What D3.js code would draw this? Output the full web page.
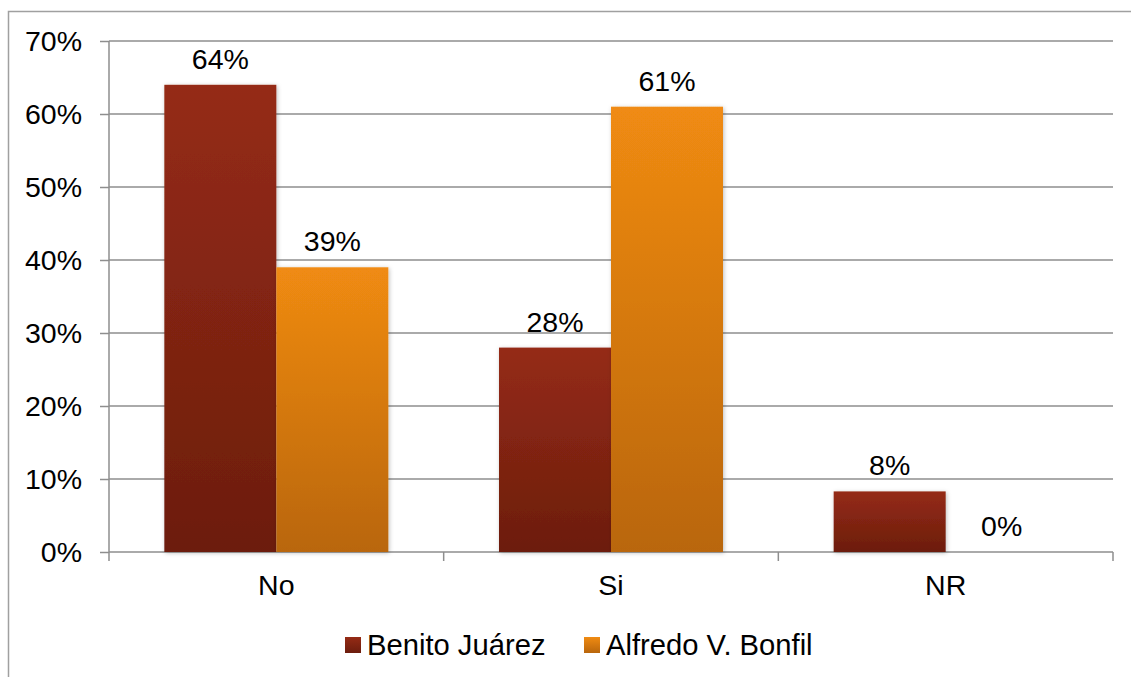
<!DOCTYPE html>
<html>
<head>
<meta charset="utf-8">
<script src="https://cdn.jsdelivr.net/npm/d3@7"></script>
<style>
  html, body { margin: 0; padding: 0; background: #fff; }
  svg { display: block; font-family: "Liberation Sans", Arial, sans-serif; }
</style>
</head>
<body>
<svg id="chart" width="1131" height="677"></svg>
<script>
const categories = ["No", "Si", "NR"];
const seriesNames = ["Benito Juárez", "Alfredo V. Bonfil"];
const benitoJuarez = [64, 28, 8.3];
const alfredoBonfil = [39, 61, 0];
const yTicks = [0, 10, 20, 30, 40, 50, 60, 70];

const values = [benitoJuarez, alfredoBonfil];
const svg = d3.select("#chart");
const W = 1131, H = 677;
const m = { left: 109, right: 1113, top: 41, bottom: 552 };
const FS = 28.5;
const LFS = 29.2;

const defs = svg.append("defs");
const grads = [["#952b15", "#6c1d0e"], ["#f08b12", "#b9660c"]];
grads.forEach((g, i) => {
  const lg = defs.append("linearGradient").attr("id", "g" + i)
    .attr("x1", 0).attr("y1", 0).attr("x2", 0).attr("y2", 1);
  lg.append("stop").attr("offset", "0%").attr("stop-color", g[0]);
  lg.append("stop").attr("offset", "100%").attr("stop-color", g[1]);
});
const f = defs.append("filter").attr("id", "sh").attr("x", "-10%").attr("y", "-10%").attr("width", "130%").attr("height", "130%");
f.append("feDropShadow").attr("dx", 1).attr("dy", 1).attr("stdDeviation", 2).attr("flood-color", "#000").attr("flood-opacity", 0.25);

// outer border
svg.append("rect").attr("x", 8.5).attr("y", 11.5).attr("width", W + 10).attr("height", H + 10)
  .attr("fill", "none").attr("stroke", "#a0a0a0").attr("stroke-width", 1.5);

const x0 = d3.scaleBand().domain(categories).range([m.left, m.right]);
const y = d3.scaleLinear().domain([0, 70]).range([m.bottom, m.top]);

// gridlines
svg.append("g").selectAll("line").data(yTicks.filter(t => t > 0)).join("line")
  .attr("x1", m.left).attr("x2", m.right)
  .attr("y1", d => y(d)).attr("y2", d => y(d))
  .attr("stroke", "#8e8e8e").attr("stroke-width", 1.5);

// y axis
const yAxis = d3.axisLeft(y).tickValues(yTicks).tickFormat(d => d + "%").tickSize(9).tickPadding(18);
const gy = svg.append("g").attr("transform", `translate(${m.left},0)`).call(yAxis);
gy.select(".domain").attr("stroke", "#8e8e8e").attr("stroke-width", 1.5).attr("d", `M0,${m.top}V${m.bottom}`);
gy.selectAll(".tick line").attr("stroke", "#8e8e8e").attr("stroke-width", 1.5);
gy.selectAll("text").attr("font-size", FS).attr("fill", "#000").attr("font-family", "Liberation Sans, Arial, sans-serif");

// x axis
const xAxis = d3.axisBottom(x0).tickSize(0).tickPadding(23);
const gx = svg.append("g").attr("transform", `translate(0,${m.bottom})`).call(xAxis);
gx.select(".domain").remove();
gx.append("line").attr("x1", m.left).attr("x2", m.right).attr("stroke", "#8e8e8e").attr("stroke-width", 1.5);
const bounds = [m.left, ...categories.map(c => x0(c) + x0.bandwidth())];
gx.selectAll(".bt").data(bounds).join("line").attr("class", "bt")
  .attr("x1", d => d).attr("x2", d => d).attr("y1", 0).attr("y2", 9)
  .attr("stroke", "#8e8e8e").attr("stroke-width", 1.5);
gx.selectAll("text").attr("font-size", FS).attr("fill", "#000").attr("font-family", "Liberation Sans, Arial, sans-serif");

// bars
const bw = 112;
values.forEach((vals, si) => {
  const g = svg.append("g");
  g.selectAll("rect").data(vals).join("rect")
    .attr("x", (d, i) => x0(categories[i]) + x0.bandwidth() / 2 + (si - 1) * bw)
    .attr("y", d => y(d))
    .attr("width", bw)
    .attr("height", d => y(0) - y(d))
    .attr("fill", `url(#g${si})`)
    .attr("filter", "url(#sh)");
  g.selectAll("text").data(vals).join("text")
    .attr("x", (d, i) => x0(categories[i]) + x0.bandwidth() / 2 + (si - 0.5) * bw)
    .attr("y", d => y(d) - 16)
    .attr("text-anchor", "middle")
    .attr("font-size", FS).attr("fill", "#000")
    .text(d => Math.round(d) + "%");
});

// legend
const legX = [345, 584];
seriesNames.forEach((n, i) => {
  svg.append("rect").attr("x", legX[i]).attr("y", 637).attr("width", 16).attr("height", 16).attr("fill", `url(#g${i})`);
  svg.append("text").attr("x", legX[i] + 22).attr("y", 655).attr("font-size", LFS).attr("fill", "#000").text(n);
});
</script>
</body>
</html>
